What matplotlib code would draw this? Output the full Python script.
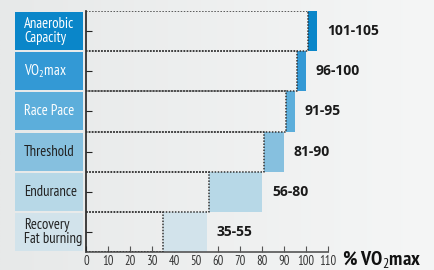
import matplotlib
matplotlib.use("Agg")
import numpy as np
import matplotlib.pyplot as plt
from matplotlib.patches import Rectangle

zones = ["Anaerobic\nCapacity", "VO$_2$max", "Race Pace", "Threshold", "Endurance", "Recovery\nFat burning"]
low = [101, 96, 91, 81, 56, 35]
high = [105, 100, 95, 90, 80, 55]
ranges = ["101-105", "96-100", "91-95", "81-90", "56-80", "35-55"]
colors = ["#0a86c9", "#3399d5", "#5caedb", "#86c0df", "#b7d8e7", "#d2e3eb"]
text_colors = ["white", "white", "white", "#222222", "#222222", "#222222"]
xticks = list(range(0, 111, 10))

plt.rcParams['font.family'] = ['PT Sans Narrow', 'DejaVu Sans']
plt.rcParams['mathtext.fontset'] = 'custom'
plt.rcParams['mathtext.rm'] = 'PT Sans Narrow'
plt.rcParams['mathtext.it'] = 'PT Sans Narrow'
plt.rcParams['mathtext.bf'] = 'PT Sans Narrow:bold'

fig = plt.figure(figsize=(4.35, 2.7), dpi=100, facecolor="#eeeff0")

# soft background gradient
bg = fig.add_axes([0, 0, 1, 1], zorder=-10)
grad = np.linspace(0, 1, 256)[None, :]
bg.imshow(grad, aspect="auto", cmap=matplotlib.colors.LinearSegmentedColormap.from_list(
    "bg", ["#e7e9e9", "#f5f6f6"]), extent=[0, 1, 0, 1])
bg.axis("off")

ax = fig.add_axes([86/435, 18/270, 242/435, 241/270])
ax.set_facecolor("none")
ax.set_xlim(0, 110)
n = len(zones)
ax.set_ylim(0, n)

for i in range(n):
    y0 = n - 1 - i
    ax.add_patch(Rectangle((low[i], y0), high[i] - low[i], 1, facecolor=colors[i],
                           edgecolor="none", zorder=2))
    # dotted outline from 0 to start of range
    ax.plot([0, low[i], low[i], 0], [y0 + 1, y0 + 1, y0, y0], color="#333333",
            linestyle=(0, (1, 1)), linewidth=1.1, zorder=3)
    ax.text(high[i] + 4.5, y0 + 0.5, ranges[i], ha="left", va="center",
            fontsize=10, fontweight="bold", color="#1a1a1a", family=["Open Sans", "DejaVu Sans"])
    # label box to the left
    ax.add_patch(Rectangle((-32.3, y0 + 0.025), 30.9, 0.95, facecolor=colors[i],
                           edgecolor="none", clip_on=False, zorder=2))
    ax.text(-28.2, y0 + 0.5, zones[i], ha="left", va="center", fontsize=10.5,
            color=text_colors[i], linespacing=0.95, clip_on=False)

ax.set_xticks(xticks)
ax.set_xticklabels([str(t) for t in xticks], fontsize=9, color="#333333")
ax.set_yticks([k + 0.5 for k in range(n)])
ax.set_yticklabels([])
ax.tick_params(axis="x", direction="in", length=4, color="#555555", pad=2)
ax.tick_params(axis="y", direction="in", length=4, color="#222222")
for s in ["top", "right"]:
    ax.spines[s].set_visible(False)
ax.spines["left"].set_color("#222222")
ax.spines["left"].set_linewidth(1.2)
ax.spines["bottom"].set_color("#555555")
ax.spines["bottom"].set_linewidth(1.2)

fig.text(342/435, 10/270, "% VO$_2$max", fontsize=14.5, ha="left", va="center",
         color="#111111", fontweight="bold")

fig.savefig("out.png", dpi=100, facecolor=fig.get_facecolor())
